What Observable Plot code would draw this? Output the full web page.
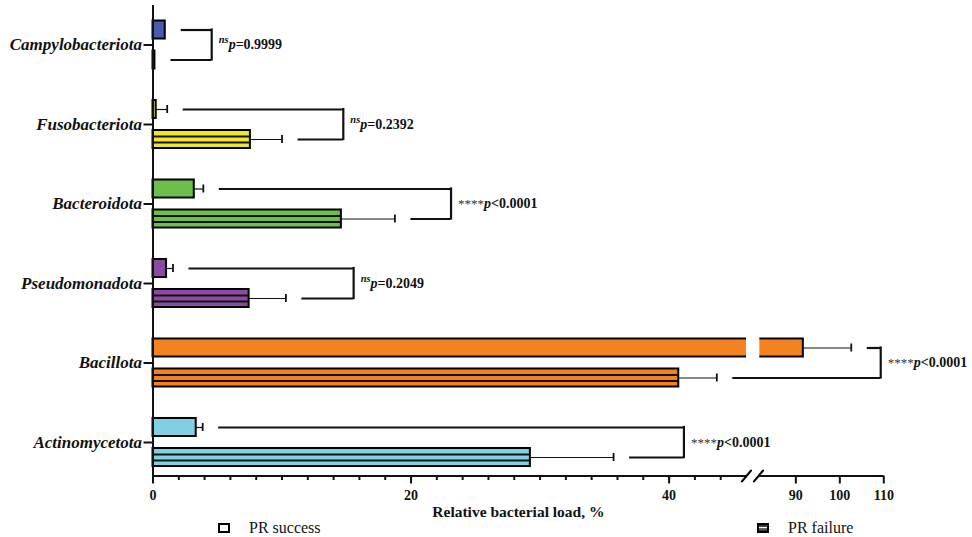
<!DOCTYPE html>
<html><head><meta charset="utf-8">
<script src="https://cdn.jsdelivr.net/npm/d3@7"></script>
<script src="https://cdn.jsdelivr.net/npm/@observablehq/plot@0.6"></script>
<style>
html,body{margin:0;padding:0;background:#fff;}
#wrap{position:relative;width:972px;height:537px;overflow:hidden;font-family:"Liberation Serif","Tinos","Times New Roman","DejaVu Serif",serif;}
#legend{position:absolute;left:0;top:519px;width:972px;height:18px;}
.li{position:absolute;top:0;height:18px;display:flex;align-items:center;font-size:16px;color:#111;}
.li span{margin-left:19px;}
#chart svg text{font-family:"Liberation Serif","Tinos","Times New Roman","DejaVu Serif",serif;}
</style></head><body>
<div id="wrap">
<div id="chart"></div>
<div id="legend">
  <div class="li" style="left:218px"><svg width="12" height="10"><rect x="1" y="1" width="10" height="8" fill="#fff" stroke="#000" stroke-width="2"/></svg><span>PR success</span></div>
  <div class="li" style="left:757px"><svg width="12" height="10"><rect x="1" y="1" width="10" height="8" fill="#333" stroke="#000" stroke-width="2"/><line x1="2" x2="10" y1="4.5" y2="4.5" stroke="#fff" stroke-width="1.2"/><line x1="2" x2="10" y1="6" y2="6" stroke="#888" stroke-width="1"/></svg><span>PR failure</span></div>
</div>
</div>
<script>
// ---- data ----
const categories = ["Campylobacteriota", "Fusobacteriota", "Bacteroidota", "Pseudomonadota", "Bacillota", "Actinomycetota"];
const barColors  = ["#4a5aad", "#eee630", "#6cbf4b", "#8c4ba0", "#f58220", "#7fd0e0"];
const successMean = [0.95, 0.25, 3.2, 1.05, 91.7, 3.35];
const successSD   = [0, 0.85, 0.7, 0.5, 10.9, 0.5];
const failureMean = [0.15, 7.55, 14.6, 7.45, 40.75, 29.25];
const failureSD   = [0, 2.45, 4.15, 2.85, 2.95, 6.45];
const bracketAt   = [4.55, 14.75, 23.1, 15.55, 109.3, 41.15];
const sigMark     = ["ns", "ns", "****", "ns", "****", "****"];
const pValue      = ["=0.9999", "=0.2392", "<0.0001", "=0.2049", "<0.0001", "<0.0001"];
const minorTicks  = [0, 2, 4, 6, 8, 10, 12, 14, 16, 18, 20, 22, 24, 26, 28, 30, 32, 34, 36, 38, 40, 42, 44];
const majorTicks  = [0, 20, 40, 90, 100, 110];
const axisBreak   = [46, 81.5];
const axisTitle   = "Relative bacterial load, %";

const rows = categories.map((c, i) => ({
  cat: c, color: barColors[i],
  s: successMean[i], sHi: successMean[i] + successSD[i],
  f: failureMean[i], fHi: failureMean[i] + failureSD[i],
  br: bracketAt[i], label: sigMark[i] + "p" + pValue[i]
}));
const lastCat = categories[categories.length - 1];
const axisSegs = [{a: 0, b: axisBreak[0]}, {a: axisBreak[1], b: 110}];
const slash = {draw(context, l) { context.moveTo(0, 0); context.lineTo(0, -l); }};
const serif = "'Liberation Serif', Tinos, 'Times New Roman', 'DejaVu Serif', serif";
const axisDy = 33.5;

const chart = Plot.plot({
  width: 972, height: 519,
  marginLeft: 152.5, marginRight: 88.7, marginTop: 5, marginBottom: 43.5,
  style: {fontFamily: serif, background: "white", color: "#111"},
  x: {type: "linear", domain: [0, axisBreak[0], axisBreak[1], 110], range: [152.5, 746, 758, 883.3]},
  y: {type: "band", domain: categories, range: [20.5, 466], paddingInner: 0.396, paddingOuter: 0, round: false},
  color: {type: "identity"},
  marks: [
    // success bars
    Plot.barX(rows, {x: "s", y: "cat", fill: "color", stroke: "black", strokeWidth: 2, insetBottom: 30}),
    // break gap in long bars
    Plot.barX(rows.filter(d => d.s > axisBreak[0]), {x1: () => axisBreak[0], x2: () => axisBreak[1] + 0.3, y: "cat", fill: "white", insetTop: -1.6, insetBottom: 28.4}),
    // failure bars (striped)
    Plot.barX(rows, {x: "f", y: "cat", fill: "color", stroke: "black", strokeWidth: 2, insetTop: 30}),
    Plot.ruleY(rows, {y: "cat", x1: 0, x2: "f", dy: 12, strokeWidth: 2}),
    Plot.ruleY(rows, {y: "cat", x1: 0, x2: "f", dy: 18, strokeWidth: 2}),
    // error bars
    Plot.ruleY(rows.filter(d => d.sHi > d.s), {y: "cat", x1: "s", x2: "sHi", dy: -15, strokeWidth: 1.2}),
    Plot.tickX(rows.filter(d => d.sHi > d.s), {x: "sHi", y: "cat", insetTop: 5, insetBottom: 35, strokeWidth: 1.8}),
    Plot.ruleY(rows.filter(d => d.fHi > d.f), {y: "cat", x1: "f", x2: "fHi", dy: 15, strokeWidth: 1.2}),
    Plot.tickX(rows.filter(d => d.fHi > d.f), {x: "fHi", y: "cat", insetTop: 35, insetBottom: 5, strokeWidth: 1.8}),
    // significance brackets
    Plot.ruleY(rows, {y: "cat", x1: "sHi", x2: "br", dy: -15, insetLeft: 16, strokeWidth: 2.2}),
    Plot.ruleY(rows, {y: "cat", x1: "fHi", x2: "br", dy: 15, insetLeft: 16, strokeWidth: 2.2}),
    Plot.tickX(rows, {x: "br", y: "cat", insetTop: 7.9, insetBottom: 7.9, strokeWidth: 2.2}),
    Plot.text(rows, {x: "br", y: "cat", text: "label", dx: 7, textAnchor: "start", fontSize: 14, fontWeight: "bold", fill: "#111"}),
    // axes
    Plot.ruleX([0], {strokeWidth: 2}),
    Plot.ruleY(axisSegs, {y: () => lastCat, x1: "a", x2: "b", dy: axisDy, strokeWidth: 2}),
    Plot.vector(axisBreak, {x: d => d, y: () => lastCat, dy: axisDy, length: 14, rotate: 40, anchor: "middle", shape: slash, strokeWidth: 2.2, stroke: "black"}),
    Plot.axisX({ticks: minorTicks, tickSize: 4.5, tickFormat: () => "", strokeWidth: 2, label: null}),
    Plot.axisX({ticks: majorTicks, tickSize: 8, tickPadding: 6, fontSize: 14, fontWeight: "bold", strokeWidth: 2, label: null, fill: "#111"}),
    Plot.text([axisTitle], {text: d => d, frameAnchor: "bottom", lineAnchor: "middle", dy: 36.5, fontSize: 15.5, fontWeight: "bold", fill: "#111"}),
    Plot.axisY({tickSize: 9, tickPadding: 2, fontSize: 17, fontStyle: "italic", fontWeight: "bold", strokeWidth: 2, label: null, fill: "#111"})
  ]
});
document.getElementById("chart").appendChild(chart);

// rich formatting of the p-value labels (superscript "ns", italic p)
d3.select(chart).selectAll("text").each(function () {
  const t = this.textContent;
  const m = t.match(/^(ns|\*+)p([=<].+)$/);
  if (!m) return;
  const el = d3.select(this);
  el.text(null);
  if (m[1] === "ns") {
    el.append("tspan").attr("font-size", 10.5).attr("font-style", "italic").attr("font-weight", "bold").attr("dy", -6).text("ns");
    el.append("tspan").attr("font-style", "italic").attr("dy", 6).text("p");
  } else {
    el.append("tspan").attr("font-weight", "normal").attr("font-size", 13).attr("fill", "#333").text(m[1]);
    el.append("tspan").attr("font-style", "italic").text("p");
  }
  el.append("tspan").text(m[2]);
});
</script>
</body></html>
